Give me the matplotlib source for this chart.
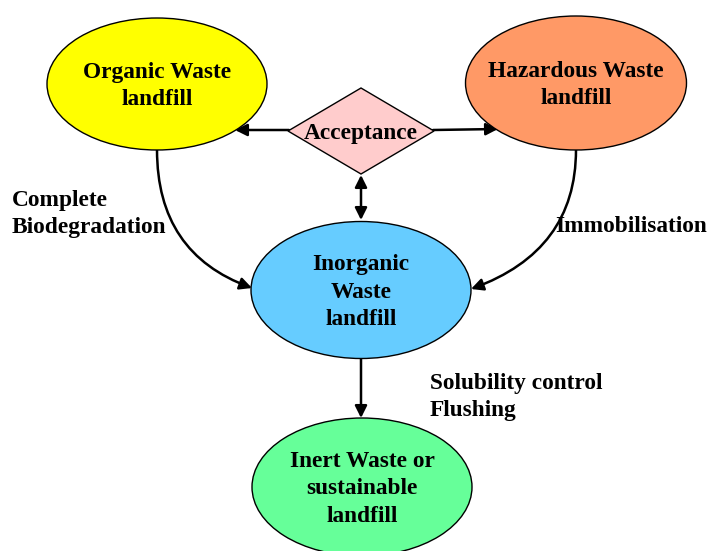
import matplotlib.pyplot as plt
from matplotlib.patches import Ellipse, Polygon, FancyArrowPatch

# node texts and fill colours
node_names = ['Organic Waste\nlandfill', 'Hazardous Waste\nlandfill',
              'Inorganic\nWaste\nlandfill', 'Inert Waste or\nsustainable\nlandfill']
node_colors = ['#ffff00', '#ff9966', '#66ccff', '#66ff99']
diamond_name = 'Acceptance'
diamond_color = '#ffcccc'
edge_labels = ['Complete\nBiodegradation', 'Immobilisation', 'Solubility control\nFlushing']

# layout in pixel coordinates (x right, y down)
node_xy = [(157, 84), (576, 83), (361, 290), (362, 487)]
node_size = [(220, 132), (221, 134), (220, 137), (220, 138)]
label_xy = [(12, 214), (555, 226), (430, 397)]

plt.rcParams['font.family'] = ['Liberation Serif', 'DejaVu Serif']

fig = plt.figure(figsize=(7.07, 5.51), dpi=100)
ax = fig.add_axes([0, 0, 1, 1])
ax.set_xlim(0, 707)
ax.set_ylim(551, 0)
ax.axis('off')

txt = dict(fontsize=16.8, fontweight='bold', color='black', linespacing=1.4)

for name, c, (x, y), (w, h) in zip(node_names, node_colors, node_xy, node_size):
    ax.add_patch(Ellipse((x, y), w, h, facecolor=c, edgecolor='black', lw=1.0, zorder=2))
    ax.text(x, y + 2, name, ha='center', va='center', zorder=3, **txt)

# acceptance diamond
dx, dy = 361, 131
ax.add_patch(Polygon([(288, dy), (dx, 88), (434, dy), (dx, 174)], closed=True,
                     facecolor=diamond_color, edgecolor='black', lw=1.0, zorder=2))
ax.text(dx, dy + 2, diamond_name, ha='center', va='center', zorder=3, **txt)

def arrow(p0, p1, style='-|>', conn='arc3'):
    a = FancyArrowPatch(p0, p1, arrowstyle=style, connectionstyle=conn,
                        mutation_scale=18, lw=1.8, color='black',
                        shrinkA=0, shrinkB=0, zorder=1)
    ax.add_patch(a)

arrow((289, 130), (235, 130))
arrow((433, 130), (498, 129))
arrow((361, 175), (361, 220), style='<|-|>')
arrow((157, 150), (252, 288), conn='angle3,angleA=90,angleB=-20')
arrow((576, 150), (471, 289), conn='angle3,angleA=90,angleB=20')
arrow((361, 358), (361, 418))

ax.text(label_xy[0][0], label_xy[0][1], edge_labels[0], ha='left', va='center', **txt)
ax.text(label_xy[1][0], label_xy[1][1], edge_labels[1], ha='left', va='center', **txt)
ax.text(label_xy[2][0], label_xy[2][1], edge_labels[2], ha='left', va='center', **txt)

fig.savefig('out.png', dpi=100)
